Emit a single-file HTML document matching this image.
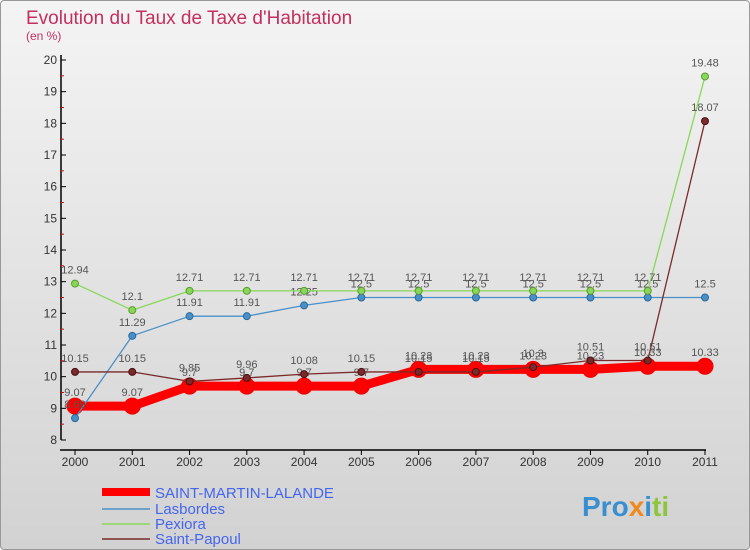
<!DOCTYPE html>
<html><head><meta charset="utf-8"><style>
body{margin:0;width:750px;height:550px;overflow:hidden;font-family:"Liberation Sans",sans-serif}
#c{position:absolute;left:0;top:0;width:748px;height:548px;border:1px solid #999;border-radius:4px;background:linear-gradient(#f4f4f4,#d2d2d2)}
</style></head><body>
<div id="c">
<svg width="750" height="550" style="position:absolute;left:-1px;top:-1px">
<text x="26" y="24" font-size="19" fill="#c4305e">Evolution du Taux de Taxe d'Habitation</text>
<text x="26" y="40" font-size="12" fill="#c4305e">(en %)</text>
<g id="axes"></g><g id="series"></g>
<g>
<line x1="102" y1="492" x2="150" y2="492" stroke="#f00" stroke-width="8"/>
<text x="155" y="498" font-size="15" fill="#4466ee">SAINT-MARTIN-LALANDE</text>
<line x1="102" y1="509" x2="150" y2="509" stroke="#4a90c8" stroke-width="1.5"/>
<text x="155" y="514" font-size="15" fill="#4466ee">Lasbordes</text>
<line x1="102" y1="524" x2="150" y2="524" stroke="#88d858" stroke-width="1.5"/>
<text x="155" y="529" font-size="15" fill="#4466ee">Pexiora</text>
<line x1="102" y1="539" x2="150" y2="539" stroke="#7a2a2a" stroke-width="1.5"/>
<text x="155" y="544" font-size="15" fill="#4466ee">Saint-Papoul</text>
</g>
<text x="582" y="516" font-size="28" font-weight="bold" fill="#3a8fd0">Pro<tspan fill="#f08a20">x</tspan><tspan fill="#3a8fd0">i</tspan><tspan fill="#8cc63f">ti</tspan></text>
</svg></div>
<script>
const years=[2000,2001,2002,2003,2004,2005,2006,2007,2008,2009,2010,2011];
const yTicks=[8,9,10,11,12,13,14,15,16,17,18,19,20];
const sml=[9.07,9.07,9.7,9.7,9.7,9.7,10.23,10.23,10.23,10.23,10.33,10.33];
const lasbordes=[8.69,11.29,11.91,11.91,12.25,12.5,12.5,12.5,12.5,12.5,12.5,12.5];
const pexiora=[12.94,12.1,12.71,12.71,12.71,12.71,12.71,12.71,12.71,12.71,12.71,19.48];
const papoul=[10.15,10.15,9.85,9.96,10.08,10.15,10.15,10.15,10.3,10.51,10.51,18.07];
const NS="http://www.w3.org/2000/svg";
const X=i=>75+i*(630/(years.length-1));
const Y=v=>440-(v-8)*(380/12);
function mk(t,a,p){const e=document.createElementNS(NS,t);for(const k in a)e.setAttribute(k,a[k]);p.appendChild(e);return e;}
const ax=document.getElementById('axes');
let e=mk('line',{x1:61,y1:55,x2:61,y2:440,stroke:'#000','stroke-width':1.5},ax);


e=mk('line',{x1:60,y1:450,x2:706,y2:450,stroke:'#000','stroke-width':1.5},ax);


yTicks.forEach(v=>{
 mk('line',{x1:61,y1:Y(v),x2:66,y2:Y(v),stroke:'#000'},ax);
 if(v<20)mk('line',{x1:61,y1:Y(v+0.5),x2:64,y2:Y(v+0.5),stroke:'#e00'},ax);
 const t=mk('text',{x:57,y:Y(v)+4,'font-size':12,'text-anchor':'end',fill:'#333'},ax);t.textContent=v;
 
 
});
years.forEach((y,i)=>{
 mk('line',{x1:X(i),y1:450,x2:X(i),y2:455,stroke:'#000'},ax);
 const t=mk('text',{x:X(i),y:466,'font-size':12,'text-anchor':'middle',fill:'#333'},ax);t.textContent=y;
 
 
});
const sg=document.getElementById('series');
function series(d,col,w,r,name,stroke){
 const g=mk('g',{},sg);
 
 
 mk('polyline',{points:d.map((v,i)=>X(i)+','+Y(v)).join(' '),fill:'none',stroke:col,'stroke-width':w,'stroke-linejoin':'round'},g);
 d.forEach((v,i)=>{
  const c=mk('circle',{cx:X(i),cy:Y(v),r:r,fill:col,stroke:stroke,'stroke-width':1},g);
  
  
  const t=mk('text',{x:X(i),y:Y(v)-10,'font-size':11,'text-anchor':'middle',fill:'#555'},g);t.textContent=v;
 });
}
series(sml,'#f00',9,8,'series-saint-martin','#e00');
series(lasbordes,'#4a90c8',1.3,3.5,'series-lasbordes','#2a6a9a');
series(pexiora,'#88d858',1.3,3.5,'series-pexiora','#5a9a30');
series(papoul,'#7a2a2a',1.3,3.5,'series-saint-papoul','#4a1010');
</script>
</body></html>
